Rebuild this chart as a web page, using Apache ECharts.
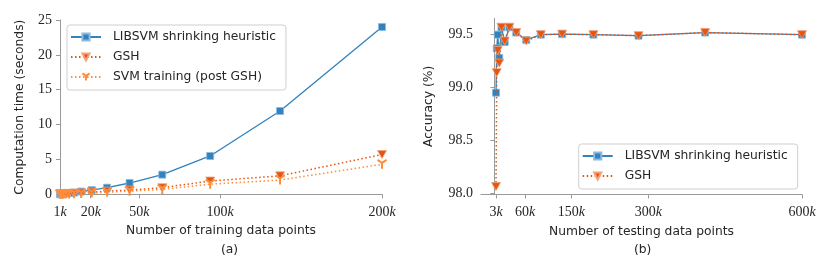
<!DOCTYPE html>
<html><head><meta charset="utf-8">
<script src="https://cdn.jsdelivr.net/npm/echarts@6/dist/echarts.min.js"></script>
<style>html,body{margin:0;padding:0;background:#fff}#c{width:830px;height:270px}</style>
</head><body><div id="c"></div>
<script>
// ---- data (a) ----
const trainX = [1000,1460,2130,3110,4540,6630,9680,14100,20600,30100,44000,64200,93800,137000,200000];
const libsvmTime = [0.02,0.03,0.05,0.08,0.12,0.18,0.25,0.4,0.6,0.95,1.62,2.82,5.5,11.95,24.0];
const gshTime = [0.05,0.04,0.05,0.06,0.08,0.1,0.14,0.2,0.3,0.45,0.6,0.95,1.9,2.65,5.7];
const postGshTime = [0.01,0.01,0.02,0.02,0.03,0.05,0.08,0.12,0.2,0.3,0.45,0.7,1.45,2.05,4.3];
const trainTicks = [1000,20000,50000,100000,200000];
const timeTicks = [0,5,10,15,20,25];
// ---- data (b) ----
const testX = [3000,4400,6400,9300,13600,19900,29100,42400,61900,90400,132000,193000,281000,411000,600000];
const libsvmAcc = [98.95,99.37,99.50,99.28,99.57,99.43,99.57,99.52,99.45,99.50,99.505,99.50,99.49,99.52,99.50];
const gshAcc = [98.06,99.14,99.35,99.23,99.57,99.44,99.57,99.52,99.44,99.50,99.505,99.50,99.49,99.52,99.50];
const testTicks = [3000,60000,150000,300000,600000];
const accTicks = [98.0,98.5,99.0,99.5];
const names = ['LIBSVM shrinking heuristic','GSH','SVM training (post GSH)'];

const BLUE='#3182bd', ORANGE='#e6550d', LORANGE='#fd8d3c';
const TXT='#262626', AX='#9a9a9a';
const serif='Liberation Serif';
const sans='DejaVu Sans';
const FS=12.3;
const pair=(xs,ys)=>xs.map((x,i)=>[x,ys[i]]);
const kFmt=v=>'{n|'+Math.round(v/1000)+'}{k|k}';
const rich={n:{fontFamily:serif,fontSize:14,color:TXT},k:{fontFamily:serif,fontStyle:'italic',fontSize:14,color:TXT}};
const triDown='path://M50,50L50,100M50,50L7,25M50,50L93,25';

function xAxis(idx,min,max,ticks,name){
  return {type:'value',gridIndex:idx,min:min,max:max,
    axisLine:{show:true,lineStyle:{color:AX,width:1}},
    axisTick:{show:true,length:4,lineStyle:{color:AX},customValues:ticks},
    axisLabel:{show:true,margin:11,formatter:kFmt,rich:rich,customValues:ticks},
    splitLine:{show:false},
    name:name,nameLocation:'middle',nameGap:31,nameMoveOverlap:false,
    nameTextStyle:{fontFamily:sans,fontSize:FS,color:TXT}};
}
function yAxis(idx,min,max,ticks,name,fmt,gap){
  return {type:'value',gridIndex:idx,min:min,max:max,
    axisLine:{show:true,lineStyle:{color:AX,width:1}},
    axisTick:{show:true,length:4,lineStyle:{color:AX},customValues:ticks},
    axisLabel:{show:true,margin:8,formatter:fmt,fontFamily:serif,fontSize:14,color:TXT,customValues:ticks},
    splitLine:{show:false},
    name:name,nameLocation:'middle',nameGap:gap,nameRotate:90,nameMoveOverlap:false,
    nameTextStyle:{fontFamily:sans,fontSize:FS,color:TXT}};
}
function legend(left,top,data){
  return {show:true,orient:'vertical',left:left,top:top,data:data,
     itemWidth:30,itemHeight:9,itemGap:8,
     padding:[6,10,7,3],
     borderColor:'#cfcfcf',borderWidth:1,borderRadius:3,backgroundColor:'rgba(255,255,255,0.8)',
     textStyle:{fontFamily:sans,fontSize:FS,color:TXT,padding:[0,0,0,7]}};
}

const chart=echarts.init(document.getElementById('c'),null,{renderer:'canvas'});
chart.setOption({
  animation:false,
  backgroundColor:'#fff',
  grid:[
    {left:60,top:20,width:322,height:174.3},
    {left:481,top:18.3,width:321,height:176.2}
  ],
  xAxis:[
    xAxis(0,1000,200000,trainTicks,'Number of training data points'),
    xAxis(1,-26300,600000,testTicks,'Number of testing data points')
  ],
  yAxis:[
    yAxis(0,0,25,timeTicks,'Computation time (seconds)',v=>String(v),34),
    yAxis(1,97.985,99.655,accTicks,'Accuracy (%)',v=>v.toFixed(1),46)
  ],
  legend:[ legend(67,25,names), legend(578.7,144,names.slice(0,2)) ],
  series:[
    {name:names[0],type:'line',xAxisIndex:0,yAxisIndex:0,data:pair(trainX,libsvmTime),
     symbol:'rect',symbolSize:7,lineStyle:{color:BLUE,width:1.3},
     itemStyle:{color:BLUE,borderColor:'#8cb9dd',borderWidth:0.8},z:3},
    {name:names[1],type:'line',xAxisIndex:0,yAxisIndex:0,data:pair(trainX,gshTime),
     symbol:'triangle',symbolRotate:180,symbolSize:[9,8],lineStyle:{color:ORANGE,width:1.5,type:[1.5,2.5]},
     itemStyle:{color:ORANGE,borderColor:'#f2a37d',borderWidth:0.8},z:4},
    {name:names[2],type:'line',xAxisIndex:0,yAxisIndex:0,data:pair(trainX,postGshTime),
     symbol:triDown,symbolSize:[9,9],lineStyle:{color:LORANGE,width:1.5,type:[1.5,2.5]},
     itemStyle:{color:LORANGE,borderColor:LORANGE,borderWidth:2},z:4},
    {name:names[0],type:'line',xAxisIndex:1,yAxisIndex:1,data:pair(testX,libsvmAcc),
     symbol:'rect',symbolSize:7,lineStyle:{color:BLUE,width:1.3},
     itemStyle:{color:BLUE,borderColor:'#8cb9dd',borderWidth:0.8},z:3},
    {name:names[1],type:'line',xAxisIndex:1,yAxisIndex:1,data:pair(testX,gshAcc),
     symbol:'triangle',symbolRotate:180,symbolSize:[9,8],lineStyle:{color:ORANGE,width:1.5,type:[1.5,2.5]},
     itemStyle:{color:ORANGE,borderColor:'#f2a37d',borderWidth:0.8},z:4}
  ],
  graphic:[
    {type:'text',left:221,top:244,style:{text:'(a)',fontFamily:sans,fontSize:FS,fill:TXT,align:'center'}},
    {type:'text',left:634,top:244,style:{text:'(b)',fontFamily:sans,fontSize:FS,fill:TXT,align:'center'}}
  ]
});
</script></body></html>
